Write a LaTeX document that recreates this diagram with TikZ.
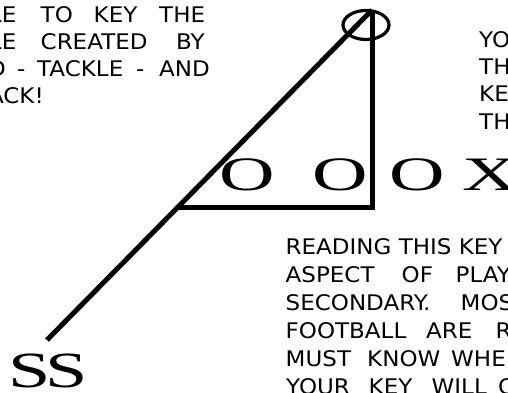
\documentclass[tikz,border=0pt]{standalone}
\usepackage{fontspec}
\usetikzlibrary{shapes.geometric}
\newfontfamily\smallfnt[FakeStretch=1.07]{DejaVu Sans}
\newfontfamily\bigfnt[FakeStretch=1.6]{Liberation Serif}
\newfontfamily\ssfnt[FakeStretch=1.5]{Liberation Serif}
\begin{document}
\begin{tikzpicture}[x=1pt,y=-1pt,
  wrd/.style={anchor=base west,inner sep=0pt,font=\smallfnt\fontsize{21.5pt}{21.5pt}\selectfont},
  wrde/.style={wrd,anchor=base east},
  bigl/.style={anchor=base,inner sep=0pt,font=\bigfnt\fontsize{48pt}{48pt}\selectfont},
  thick line/.style={line width=5pt,line cap=butt,line join=miter}]
\useasboundingbox (0,0) rectangle (508,393);
\clip (0,0) rectangle (508,393);
\fill[white] (0,0) rectangle (508,393);
% coordinates of the figure
\coordinate (top) at (372,10);
\coordinate (tail) at (47,340);
\coordinate (corner) at (372,207.5);
\coordinate (left) at (178,207.5);
% lines
\draw[thick line] (tail) -- (top);
\draw[thick line] (left) -- (corner) -- (top);
\node[draw,line width=3.2pt,ellipse,minimum width=46pt,minimum height=29pt,inner sep=0pt] (qb) at (366,25) {};
% big letters
\node[bigl] (o1) at (247.5,190.5) {O};
\node[bigl] (o2) at (340,190.5) {O};
\node[bigl] (o3) at (417.5,190.5) {O};
\node[bigl,anchor=base west] (x1) at (462,190.5) {X};
\node[anchor=base,inner sep=0pt,font=\ssfnt\fontsize{50.7pt}{50.7pt}\selectfont] (ss) at (48,387.3) {S\kern-5ptS};
% top-left text
\node[wrde] (tl1) at (16.5,23) {ABLE};
\node[wrde] (tl2) at (16.5,49.7) {PLE};
\node[wrde] (tl3) at (6,76.3) {END};
\node[wrde] (tl4) at (44,103) {BACK!};
\foreach \w/\xx/\yy [count=\i] in {TO/40.5/23, KEY/93.5/23, THE/159/23,
  CREATED/40.5/49.7, BY/176/49.7,
  -/17/76.3, TACKLE/37/76.3, -/136/76.3, AND/159/76.3}
  \node[wrd] (t\i) at (\xx,\yy) {\w};
% right text
\foreach \w/\yy [count=\i] in {YOU/48, THE/75, KEY/102, THE/129}
  \node[wrd] (r\i) at (479,\yy) {\w};
% bottom text
\node[wrd] (b0) at (285.5,254) {READING THIS KEY};
\foreach \w/\xx/\yy [count=\i] in {
  ASPECT/285.5/282, OF/401.5/282, PLAY/455.5/282,
  SECONDARY./285.5/310, MOST/460.5/310,
  FOOTBALL/285.5/338, ARE/426/338, READ/495.5/338,
  MUST/285.5/366, KNOW/367/366, WHERE/451/366,
  YOUR/286/394, KEY/368.5/394, WILL/431.5/394, CAN/498/394}
  \node[wrd] (b\i) at (\xx,\yy) {\w};
\end{tikzpicture}
\end{document}
